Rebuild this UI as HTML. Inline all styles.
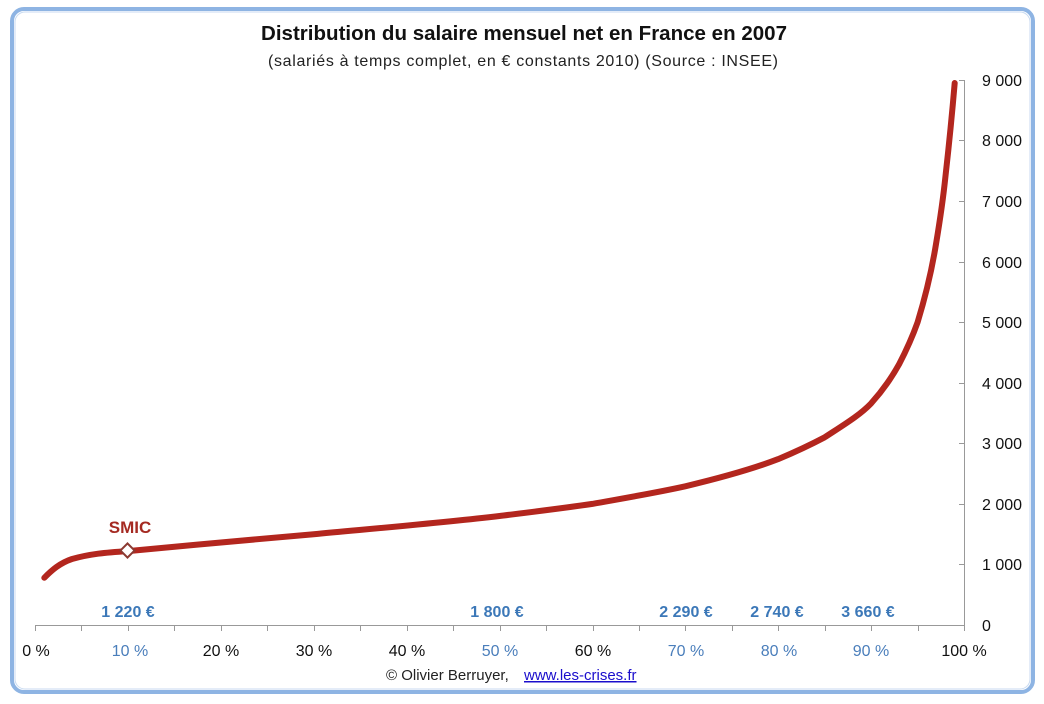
<!DOCTYPE html>
<html><head><meta charset="utf-8"><style>
body{margin:0;background:#fff;}
svg{display:block;font-family:"Liberation Sans",sans-serif;}
</style></head><body>
<svg width="1044" height="704" viewBox="0 0 1044 704" xmlns="http://www.w3.org/2000/svg">
<rect x="0" y="0" width="1044" height="704" fill="#fff"/>
<rect x="12" y="9" width="1021" height="683" rx="12" fill="none" stroke="#8eb4e3" stroke-width="4"/>
<rect x="15" y="12" width="1015" height="677" rx="10" fill="none" stroke="#c8daf0" stroke-width="1"/>
<text x="524" y="40" text-anchor="middle" font-size="20.5" font-weight="bold" fill="#111" textLength="526">Distribution du salaire mensuel net en France en 2007</text>
<text x="523" y="66" text-anchor="middle" font-size="16" fill="#222" textLength="510">(salariés à temps complet, en € constants 2010) (Source : INSEE)</text>
<g stroke="#999" stroke-width="1">
<line x1="964.5" y1="80" x2="964.5" y2="625"/>
<line x1="959" y1="80.5" x2="964" y2="80.5"/><line x1="959" y1="140.5" x2="964" y2="140.5"/>
<line x1="959" y1="201.5" x2="964" y2="201.5"/><line x1="959" y1="262.5" x2="964" y2="262.5"/>
<line x1="959" y1="322.5" x2="964" y2="322.5"/><line x1="959" y1="383.5" x2="964" y2="383.5"/>
<line x1="959" y1="443.5" x2="964" y2="443.5"/><line x1="959" y1="504.5" x2="964" y2="504.5"/>
<line x1="959" y1="564.5" x2="964" y2="564.5"/>
<line x1="35" y1="625.5" x2="964" y2="625.5"/>
<line x1="35.5" y1="625" x2="35.5" y2="631"/><line x1="81.5" y1="625" x2="81.5" y2="631"/>
<line x1="128.5" y1="625" x2="128.5" y2="631"/><line x1="174.5" y1="625" x2="174.5" y2="631"/>
<line x1="221.5" y1="625" x2="221.5" y2="631"/><line x1="267.5" y1="625" x2="267.5" y2="631"/>
<line x1="314.5" y1="625" x2="314.5" y2="631"/><line x1="360.5" y1="625" x2="360.5" y2="631"/>
<line x1="407.5" y1="625" x2="407.5" y2="631"/><line x1="453.5" y1="625" x2="453.5" y2="631"/>
<line x1="500.5" y1="625" x2="500.5" y2="631"/><line x1="546.5" y1="625" x2="546.5" y2="631"/>
<line x1="593.5" y1="625" x2="593.5" y2="631"/><line x1="639.5" y1="625" x2="639.5" y2="631"/>
<line x1="685.5" y1="625" x2="685.5" y2="631"/><line x1="732.5" y1="625" x2="732.5" y2="631"/>
<line x1="778.5" y1="625" x2="778.5" y2="631"/><line x1="825.5" y1="625" x2="825.5" y2="631"/>
<line x1="871.5" y1="625" x2="871.5" y2="631"/><line x1="918.5" y1="625" x2="918.5" y2="631"/>
<line x1="964.5" y1="625" x2="964.5" y2="631"/>
</g>
<g font-size="16" fill="#111">
<text x="982" y="86">9 000</text><text x="982" y="146">8 000</text><text x="982" y="207">7 000</text>
<text x="982" y="268">6 000</text><text x="982" y="328">5 000</text><text x="982" y="389">4 000</text>
<text x="982" y="449">3 000</text><text x="982" y="510">2 000</text><text x="982" y="570">1 000</text>
<text x="982" y="631">0</text>
</g>
<g font-size="16" fill="#111" text-anchor="middle">
<text x="36" y="656">0 %</text><text x="130" y="656" fill="#4a7ebb">10 %</text><text x="221" y="656">20 %</text>
<text x="314" y="656">30 %</text><text x="407" y="656">40 %</text><text x="500" y="656" fill="#4a7ebb">50 %</text>
<text x="593" y="656">60 %</text><text x="686" y="656" fill="#4a7ebb">70 %</text><text x="779" y="656" fill="#4a7ebb">80 %</text>
<text x="871" y="656" fill="#4a7ebb">90 %</text><text x="964" y="656">100 %</text>
</g>
<g font-size="16" font-weight="bold" fill="#3c78b8" text-anchor="middle">
<text x="128" y="617">1 220 €</text><text x="497" y="617">1 800 €</text><text x="686" y="617">2 290 €</text>
<text x="777" y="617">2 740 €</text><text x="868" y="617">3 660 €</text>
</g>
<text x="130" y="533" text-anchor="middle" font-size="17" font-weight="bold" fill="#a52a22">SMIC</text>
<path d="M44.3,577.8 C52,570 60,563 72,559 C90,554 105,552.5 127.9,551.1 C190,545 250,540 313.7,534.2 C380,528 440,523 499.5,516 C540,511 565,508 592.4,503.9 C625,498 655,493 685.3,486.3 C720,478 750,470 778.2,459.1 C800,450 812,444 824.7,437.3 C845,424 860,415 871.1,403.4 C884,389 892,377 898.9,364.6 C907,349 912,338 917.6,322.2 C925,298 931,275 936.1,243.5 C940,220 943,200 945.4,176.9 C949,145 952,115 954.7,83" fill="none" stroke="#b3261e" stroke-width="6" stroke-linecap="round" stroke-linejoin="round"/>
<rect x="122.5" y="545.5" width="10" height="10" transform="rotate(45 127.5 550.5)" fill="#fff" stroke="#8b3a32" stroke-width="2"/>
<text x="386" y="680" font-size="15" fill="#222">© Olivier Berruyer, </text>
<text x="524" y="680" font-size="15" fill="#1a0dcc" text-decoration="underline">www.les-crises.fr</text>
</svg>
</body></html>
